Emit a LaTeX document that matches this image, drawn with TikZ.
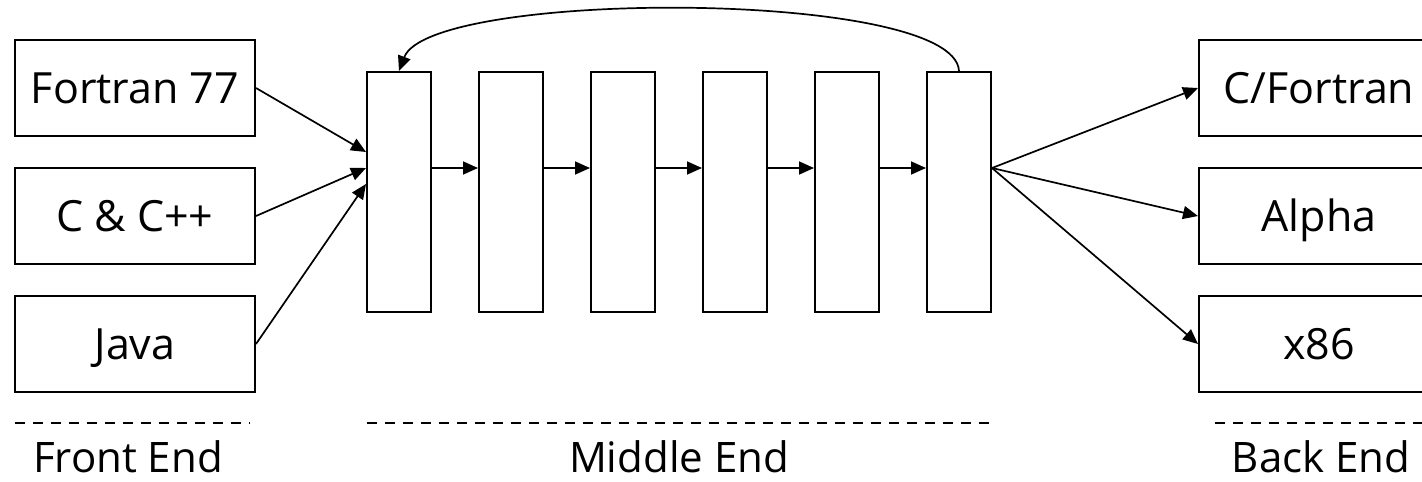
\documentclass[tikz,border=0pt]{standalone}
\usepackage{fontspec}
\setmainfont{Open Sans}
\usetikzlibrary{arrows.meta}
\begin{document}
\begin{tikzpicture}[x=1pt,y=-1pt,
  lang/.style={draw,line width=2pt,minimum width=240pt,minimum height=96pt,
    inner sep=0pt,font=\fontsize{43}{50}\selectfont,text height=31pt,text depth=0pt},
  pass/.style={draw,line width=2pt,minimum width=64pt,minimum height=240pt,inner sep=0pt},
  flow/.style={line width=1.7pt,-{Triangle[length=15pt,width=13pt]}},
  divider/.style={line width=2pt,dash pattern=on 10pt off 8pt},
  stage/.style={anchor=base,inner sep=0pt,text depth=0pt,font=\fontsize{42}{48}\selectfont}]
\useasboundingbox (0,0) rectangle (1422,482);
\begin{scope}
\clip (0,0) rectangle (1422,482);

% front-end languages
\node[lang] (f77)  at (135,88)  {Fortran 77};
\node[lang] (cpp)  at (135,216) {C \& C++};
\node[lang] (java) at (135,344) {Java};

% optimisation passes
\foreach \i in {1,...,6}
  \node[pass] (m\i) at ({399+112*(\i-1)},192) {};

% back-end targets
\node[lang] (cf)    at (1319,88)  {C/Fortran};
\node[lang] (alpha) at (1319,216) {Alpha};
\node[lang] (x86)   at (1319,344) {x86};

% inputs into the first pass
\draw[flow] (f77.east)  -- ([yshift=40pt]m1.west);
\draw[flow] (cpp.east)  -- ([yshift=24pt]m1.west);
\draw[flow] (java.east) -- ([yshift=8pt]m1.west);

% pass chain
\foreach \i/\j in {1/2,2/3,3/4,4/5,5/6}
  \draw[flow] ([yshift=24pt]m\i.east) -- ([yshift=24pt]m\j.west);

% outputs to the targets
\draw[flow] ([yshift=24pt]m6.east) -- (cf.west);
\draw[flow] ([yshift=24pt]m6.east) -- (alpha.west);
\draw[flow] ([yshift=24pt]m6.east) -- (x86.west);

% repeat loop over the passes
\draw[flow] (m6.north) .. controls +(-4,-82) and +(31,-82) .. (m1.north);

% stage dividers
\coordinate (fa) at (15,423);   \coordinate (fb) at (250,423);
\coordinate (ma) at (367,423);  \coordinate (mb) at (991,423);
\coordinate (ba) at (1215,423); \coordinate (bb) at (1440,423);
\draw[divider] (fa) -- (fb);
\draw[divider] (ma) -- (mb);
\draw[divider] (ba) -- (bb);
\end{scope}

% stage captions
\node[stage] (front)  at (128,472)  {Front End};
\node[stage] (middle) at (679,472)  {Middle End};
\node[stage] (back)   at (1321,472) {Back End};
\end{tikzpicture}
\end{document}
